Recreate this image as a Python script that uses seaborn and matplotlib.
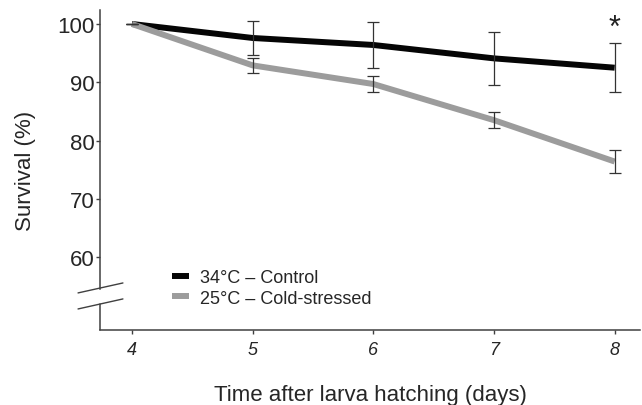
import matplotlib
matplotlib.use("Agg")
import matplotlib.pyplot as plt
import seaborn as sns
import pandas as pd
from matplotlib.lines import Line2D

days = [4, 5, 6, 7, 8]
control = [100.0, 97.6, 96.4, 94.1, 92.5]
control_err = [0.0, 2.85, 3.9, 4.55, 4.2]
cold = [100.0, 92.9, 89.7, 83.5, 76.4]
cold_err = [0.0, 1.33, 1.37, 1.37, 1.9]
labels = ["34°C – Control", "25°C – Cold-stressed"]
yticks = [60, 70, 80, 90, 100]

df = pd.DataFrame({
    "day": days + days,
    "survival": control + cold,
    "group": [labels[0]] * len(days) + [labels[1]] * len(days),
})

sns.set_style("ticks")
plt.rcParams["font.family"] = ["Liberation Sans", "DejaVu Sans"]

fig = plt.figure(figsize=(6.42, 4.06), dpi=100)
ax = fig.add_axes([100 / 642, 75 / 406, 540 / 642, 320 / 406])

sns.lineplot(data=df, x="day", y="survival", hue="group",
             palette={labels[0]: "#050505", labels[1]: "#9c9c9c"},
             linewidth=4.3, ax=ax, legend=False, solid_capstyle="butt")

ecol = "#333333"
ax.errorbar(days, control, yerr=control_err, fmt="none", ecolor=ecol,
            elinewidth=0.9, capsize=4.3, capthick=0.9, zorder=5)
ax.errorbar(days, cold, yerr=cold_err, fmt="none", ecolor=ecol,
            elinewidth=0.9, capsize=4.3, capthick=0.9, zorder=5)

xmin, xmax = 3.735, 8.21
ymin, ymax = 47.5, 102.4
ax.set_xlim(xmin, xmax)
ax.set_ylim(ymin, ymax)
ax.set_xticks(days)
ax.set_xticklabels([str(d) for d in days], fontstyle="italic", fontsize=13)
ax.set_yticks(yticks)
ax.set_yticklabels([str(v) for v in yticks], fontsize=16)

spc = "#404040"
sns.despine(ax=ax, top=True, right=True, left=False, bottom=False)
ax.spines["left"].set_color(spc)
ax.spines["bottom"].set_color(spc)
ax.spines["left"].set_linewidth(1.1)
ax.spines["bottom"].set_linewidth(1.1)
ax.spines["left"].set_bounds(54.6, ymax)
ax.tick_params(axis="both", direction="out", length=3, width=1.0, color=spc)
ax.tick_params(axis="y", pad=1)
ax.tick_params(axis="x", pad=5)

# lower part of broken y axis and break marks
ax.add_line(Line2D([xmin, xmin], [ymin, 52.0], color=spc, lw=1.1, clip_on=False))
ax.add_line(Line2D([3.553, 3.925], [53.86, 55.57], color=spc, lw=1.0, clip_on=False))
ax.add_line(Line2D([3.553, 3.925], [51.11, 52.83], color=spc, lw=1.0, clip_on=False))

ax.set_xlabel("Time after larva hatching (days)", fontsize=16, labelpad=19)
ax.set_ylabel("Survival (%)", fontsize=16, labelpad=15)

ax.text(8, 99.3, "*", fontsize=22, ha="center", va="center", color="#222222")

handles = [Line2D([], [], color="#050505", lw=4.3, solid_capstyle="butt"),
           Line2D([], [], color="#9c9c9c", lw=4.3, solid_capstyle="butt")]
ax.legend(handles, labels, loc="center left", bbox_to_anchor=(0.133, 0.132),
          frameon=False, fontsize=13, handlelength=0.95, handletextpad=0.6,
          labelspacing=0.2, borderpad=0, borderaxespad=0)

fig.savefig("out.png", dpi=100)
